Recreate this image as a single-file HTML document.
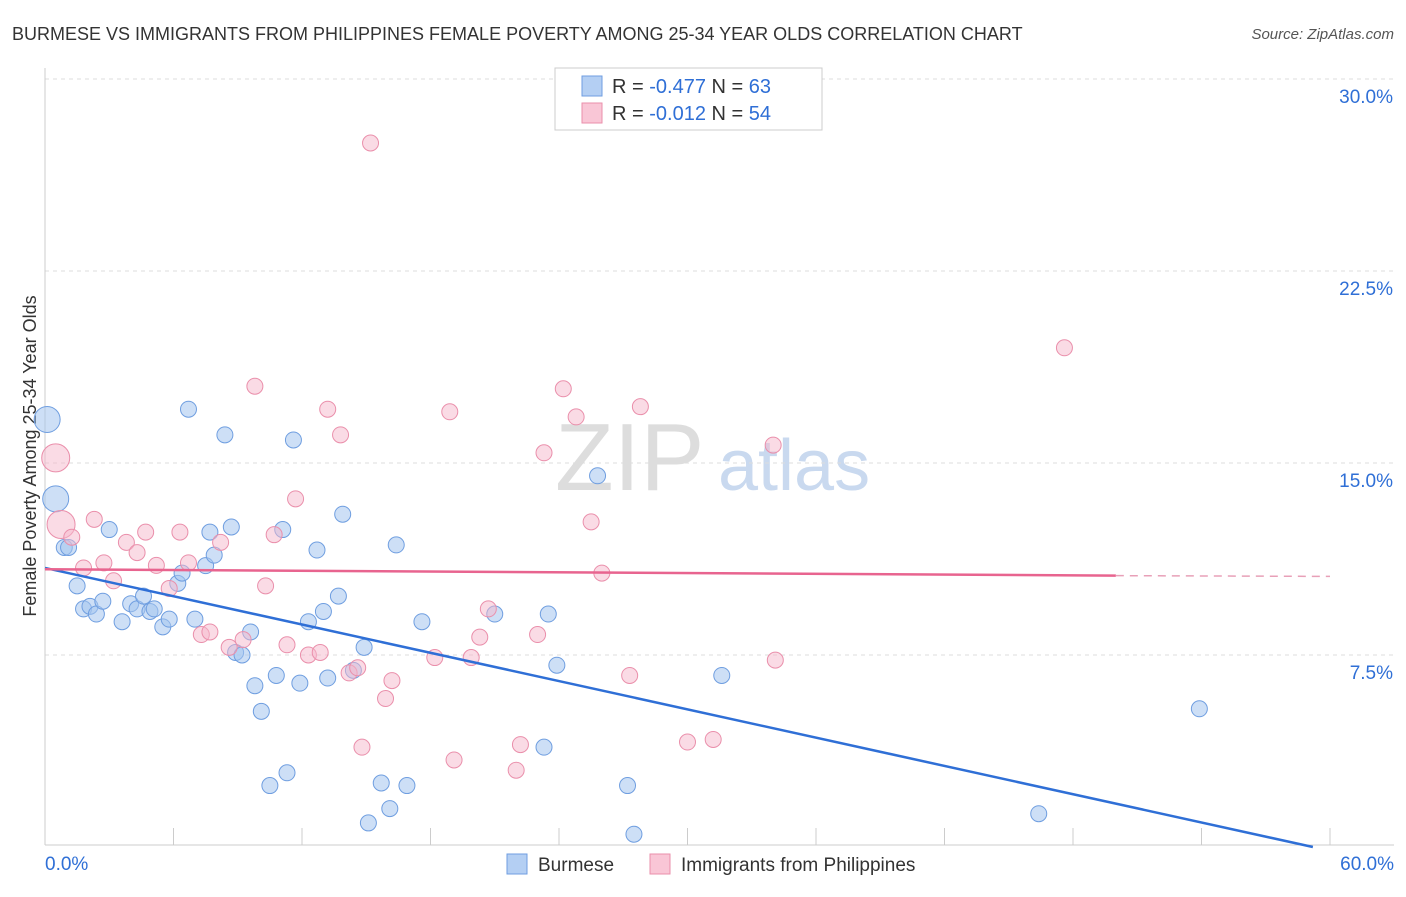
<!DOCTYPE html>
<html><head><meta charset="utf-8"><style>
body{margin:0;background:#fff;font-family:"Liberation Sans",sans-serif;}
svg text{font-family:"Liberation Sans",sans-serif;}
</style></head><body>
<svg id="c" width="1406" height="892" xmlns="http://www.w3.org/2000/svg">
<text x="12" y="40" font-size="18" fill="#333">BURMESE VS IMMIGRANTS FROM PHILIPPINES FEMALE POVERTY AMONG 25-34 YEAR OLDS CORRELATION CHART</text>
<text x="1394" y="39" font-size="15" fill="#555" font-style="italic" text-anchor="end">Source: ZipAtlas.com</text>
<text x="36" y="456" font-size="18" fill="#333" text-anchor="middle" transform="rotate(-90 36 456)">Female Poverty Among 25-34 Year Olds</text>
<text x="555" y="490" font-size="96" fill="#ddd" font-family="Liberation Serif">ZIP</text>
<text x="718" y="490" font-size="72" fill="#c9d9ef">atlas</text>
<g id="grid"></g><g id="pts"></g><g id="lines"></g>
<g>
<rect x="555" y="68" width="267" height="62" fill="#fff" stroke="#ccc"/>
<rect x="582" y="76" width="20" height="20" fill="#b4cff3" stroke="#6f9ee0"/>
<rect x="582" y="103" width="20" height="20" fill="#f9c6d6" stroke="#ea8fab"/>
<text x="612" y="93" font-size="20" fill="#333">R = <tspan fill="#2f6fd6">-0.477</tspan>   N = <tspan fill="#2f6fd6">63</tspan></text>
<text x="612" y="120" font-size="20" fill="#333">R = <tspan fill="#2f6fd6">-0.012</tspan>   N = <tspan fill="#2f6fd6">54</tspan></text>
</g>
<g>
<rect x="507" y="854" width="20" height="20" fill="#b4cff3" stroke="#6f9ee0"/>
<text x="538" y="871" font-size="19" fill="#333">Burmese</text>
<rect x="650" y="854" width="20" height="20" fill="#f9c6d6" stroke="#ea8fab"/>
<text x="681" y="871" font-size="19" fill="#333">Immigrants from Philippines</text>
</g>
</svg>
<script>
const yTicks=[30,22.5,15,7.5];
const yTickLabels=["30.0%","22.5%","15.0%","7.5%"];
const xTickLabels=["0.0%","60.0%"];
const blueX=[0.1,0.5,0.9,1.1,1.5,1.8,2.1,2.4,2.7,3.0,3.6,4.0,4.3,4.6,4.9,5.1,5.5,5.8,6.2,6.4,6.7,7.0,7.5,7.7,7.9,8.4,8.7,8.9,9.2,9.6,9.8,10.1,10.5,10.8,11.1,11.3,11.6,11.9,12.3,12.7,13.0,13.2,13.7,13.9,14.4,14.9,15.1,15.7,16.1,16.4,16.9,17.6,21.0,23.3,23.5,23.9,25.8,27.2,27.5,31.6,46.4,53.9];
const blueY=[16.7,13.6,11.7,11.7,10.2,9.3,9.4,9.1,9.6,12.4,8.8,9.5,9.3,9.8,9.2,9.3,8.6,8.9,10.3,10.7,17.1,8.9,10.99,12.3,11.4,16.1,12.5,7.6,7.5,8.4,6.3,5.3,2.4,6.7,12.4,2.9,15.9,6.4,8.8,11.6,9.2,6.6,9.8,13.0,6.9,7.8,0.94,2.5,1.5,11.8,2.4,8.8,9.1,3.9,9.1,7.1,14.5,2.4,0.5,6.7,1.3,5.4];
const pinkX=[0.5,0.75,1.25,1.8,2.3,2.75,3.2,3.8,4.3,4.7,5.2,5.8,6.3,6.7,7.3,7.7,8.2,8.6,9.25,9.8,10.3,10.7,11.3,11.7,12.3,12.85,13.2,13.8,14.2,14.6,14.8,15.2,15.9,16.2,18.2,18.9,19.1,19.9,20.3,20.7,22.0,22.2,23.0,23.3,24.2,24.8,25.5,26.0,27.3,27.8,30.0,31.2,34.0,34.1,47.6];
const pinkY=[15.2,12.6,12.1,10.9,12.8,11.1,10.4,11.9,11.5,12.3,11.0,10.1,12.3,11.1,8.3,8.4,11.9,7.8,8.1,18.0,10.2,12.2,7.9,13.6,7.5,7.6,17.1,16.1,6.8,7.0,3.9,27.5,5.8,6.5,7.4,17.0,3.4,7.4,8.2,9.3,3.0,4.0,8.3,15.4,17.9,16.8,12.7,10.7,6.7,17.2,4.1,4.2,15.7,7.3,19.5];
const blueTrend=[0,10.9,59.2,0];
const pinkTrend=[0,10.85,50,10.6,60,10.57];
const X0=45,X1=1330,Y0=847;
const sx=v=>X0+v/60*(X1-X0), sy=v=>Y0-v/7.5*192;
const NS="http://www.w3.org/2000/svg";
function mk(tag,attrs,parent){const e=document.createElementNS(NS,tag);for(const k in attrs)e.setAttribute(k,attrs[k]);parent.appendChild(e);return e;}
const grid=document.getElementById('grid'),pts=document.getElementById('pts'),lines=document.getElementById('lines');
yTicks.forEach((t,i)=>{
 const l=mk('line',{x1:X0,x2:1394,y1:sy(t),y2:sy(t),stroke:'#ddd','stroke-dasharray':'4,4'},grid);
 
 
 const tx=mk('text',{x:1393,y:sy(t)+24,'font-size':19,fill:'#2f6fd6','text-anchor':'end'},grid);
 tx.textContent=yTickLabels[i];
 
 
});
const ax=mk('line',{x1:X0,x2:X0,y1:68,y2:845,stroke:'#ccc'},grid);


const bx=mk('line',{x1:X0,x2:1394,y1:845,y2:845,stroke:'#ccc'},grid);


for(let i=0;i<=10;i++){
 const t=mk('line',{x1:sx(i*6),x2:sx(i*6),y1:828,y2:845,stroke:'#ccc'},grid);
 
 
}
[[0,45,'start'],[1,1394,'end']].forEach(([i,x,a])=>{
 const tx=mk('text',{x:x,y:870,'font-size':19,fill:'#2f6fd6','text-anchor':a},grid);
 tx.textContent=xTickLabels[i];
 
 
});
blueX.forEach((x,i)=>{
 const r=i<2?13:8;
 const c=mk('circle',{cx:sx(x),cy:sy(blueY[i]),r:r,fill:'rgba(164,196,239,0.55)',stroke:'#6f9ee0','stroke-width':1},pts);
 
 
});
pinkX.forEach((x,i)=>{
 const r=i<2?14:8;
 const c=mk('circle',{cx:sx(x),cy:sy(pinkY[i]),r:r,fill:'rgba(246,184,203,0.5)',stroke:'#ea8fab','stroke-width':1},pts);
 
 
});
const bl=mk('line',{x1:sx(blueTrend[0]),y1:sy(blueTrend[1]),x2:sx(blueTrend[2]),y2:sy(blueTrend[3]),stroke:'#2f6fd6','stroke-width':2.5},lines);


const pl=mk('line',{x1:sx(pinkTrend[0]),y1:sy(pinkTrend[1]),x2:sx(pinkTrend[2]),y2:sy(pinkTrend[3]),stroke:'#e8648f','stroke-width':2.5},lines);


const pd=mk('line',{x1:sx(pinkTrend[2]),y1:sy(pinkTrend[3]),x2:sx(pinkTrend[4]),y2:sy(pinkTrend[5]),stroke:'#e8a0b8','stroke-width':1.5,'stroke-dasharray':'8,6'},lines);


</script>
</body></html>
